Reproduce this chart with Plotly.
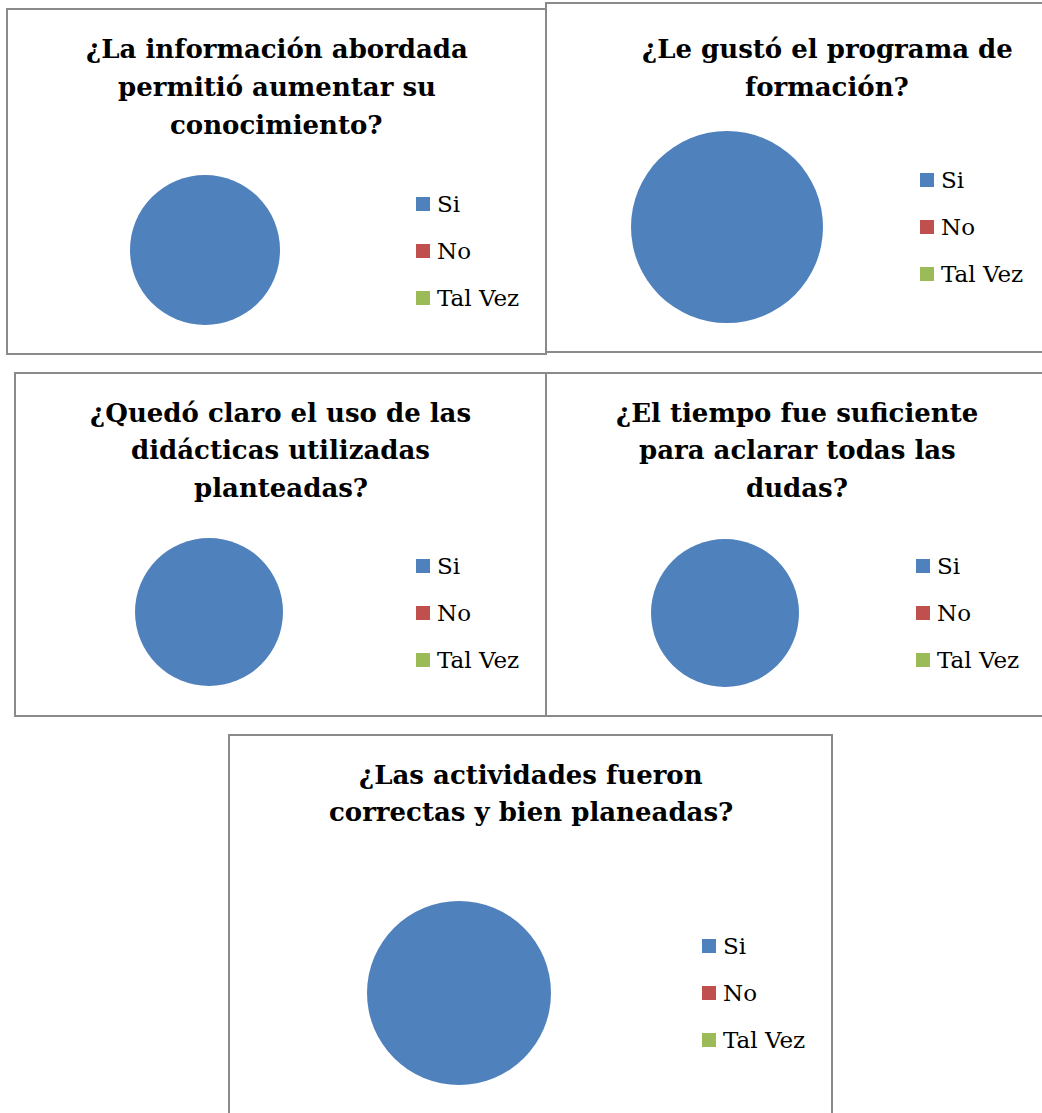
import plotly.graph_objects as go

W, H = 1042, 1113

# survey questions (title lines as drawn)
questions = [
    ["¿La información abordada", "permitió aumentar su", "conocimiento?"],
    ["¿Le gustó el programa de", "formación?"],
    ["¿Quedó claro el uso de las", "didácticas utilizadas", "planteadas?"],
    ["¿El tiempo fue suficiente", "para aclarar todas las", "dudas?"],
    ["¿Las actividades fueron", "correctas y bien planeadas?"],
]
labels = ["Si", "No", "Tal Vez"]
colors = ["#4F81BD", "#C0504D", "#9BBB59"]

# answer share per question (%)
si_pct = [100, 100, 100, 100, 100]
no_pct = [0, 0, 0, 0, 0]
tal_vez_pct = [0, 0, 0, 0, 0]

# layout in pixels: panel box, pie centre/radius, title line centres, legend
panels = [(7, 9, 546, 354), (546, 3, 1108, 352), (15, 373, 546, 716),
          (546, 373, 1048, 716), (229, 735, 832, 1130)]
pies = [(205, 250, 75), (727, 227, 96), (209, 612, 74), (725, 613, 74), (459, 993, 92)]
title_y = [[49, 87, 125], [49, 87], [413, 450, 488], [413, 450, 488], [775, 812]]
legend_xy = [(423, 204), (927, 180), (423, 566), (923, 566), (709, 946)]
legend_gap = 47
sq = 14

TITLE_FONT = dict(family="DejaVu Serif", size=26, color="#000000", weight="bold")
LEG_FONT = dict(family="DejaVu Serif", size=23, color="#000000")

px_x = lambda v: v / W
px_y = lambda v: 1 - v / H

fig = go.Figure()
shapes, annotations = [], []

for i, q in enumerate(questions):
    x0, y0, x1, y1 = panels[i]
    shapes.append(dict(type="rect", xref="paper", yref="paper",
                       x0=px_x(x0), x1=px_x(x1), y0=px_y(y1), y1=px_y(y0),
                       line=dict(color="#8a8a8a", width=2), fillcolor="rgba(0,0,0,0)"))

    cx, cy, r = pies[i]
    fig.add_trace(go.Pie(
        labels=labels,
        values=[si_pct[i], no_pct[i], tal_vez_pct[i]],
        marker=dict(colors=colors, line=dict(width=0)),
        textinfo="none",
        sort=False,
        showlegend=False,
        domain=dict(x=[px_x(cx - r), px_x(cx + r)], y=[px_y(cy + r), px_y(cy - r)]),
        name=" ".join(q),
    ))

    tc = (x0 + x1) / 2
    for line, ty in zip(q, title_y[i]):
        annotations.append(dict(text=line, x=px_x(tc), y=px_y(ty), xref="paper", yref="paper",
                                xanchor="center", yanchor="middle", showarrow=False,
                                font=TITLE_FONT))

    lx, ly = legend_xy[i]
    for k, (lab, col) in enumerate(zip(labels, colors)):
        yy = ly + k * legend_gap
        shapes.append(dict(type="rect", xref="paper", yref="paper",
                           x0=px_x(lx - sq / 2), x1=px_x(lx + sq / 2),
                           y0=px_y(yy + sq / 2), y1=px_y(yy - sq / 2),
                           line=dict(width=0), fillcolor=col))
        annotations.append(dict(text=lab, x=px_x(lx + 12), y=px_y(yy),
                                xref="paper", yref="paper", xanchor="left", yanchor="middle",
                                showarrow=False, font=LEG_FONT))

fig.update_layout(
    width=W, height=H,
    margin=dict(l=0, r=0, t=0, b=0),
    paper_bgcolor="white",
    plot_bgcolor="white",
    shapes=shapes,
    annotations=annotations,
)

# page body has an 8px default margin; drop it so the figure sits at 0,0
fig.write_html("out.html", config={"displayModeBar": False},
               post_script="document.body.style.margin='0';")
